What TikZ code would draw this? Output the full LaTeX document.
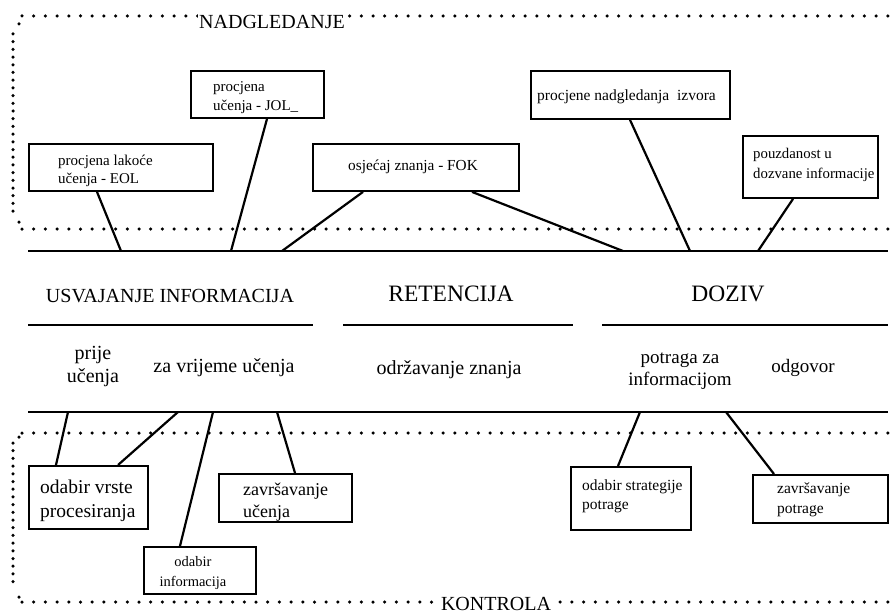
\documentclass[tikz,border=0pt]{standalone}
\usepackage{fontspec}
\setmainfont{Liberation Serif}
\usetikzlibrary{calc}
\tikzset{
  mainline/.style={line width=2.8pt},
  conn/.style={line width=2.2pt},
  boxshape/.style={draw, line width=1.9pt, rectangle, inner sep=0pt, anchor=north west},
  boxtxt/.style={inner sep=0pt, align=left, anchor=west},
  midtxt/.style={inner sep=0pt, align=center},
  regionlbl/.style={fill=white, inner sep=1.5pt, font=\fontsize{20}{22}\selectfont}
}
\newcommand{\dotr}{1.75pt}
\begin{document}
\begin{tikzpicture}[x=1pt,y=-1pt]
\useasboundingbox[fill=white] (0,0) rectangle (890,615);

% dotted regions
\foreach \x in {22,33.7,...,889} {
  \fill (\x,16) circle (\dotr);
  \fill (\x,229) circle (\dotr);
  \fill (\x,433) circle (\dotr);
  \fill (\x,602) circle (\dotr);
}
\foreach \y in {34,41.7,...,213} { \fill (13,\y) circle (\dotr); }
\foreach \y in {443,450.7,...,587} { \fill (13,\y) circle (\dotr); }
\fill (19,24) circle (\dotr);
\fill (19,222) circle (\dotr);
\fill (19,437) circle (\dotr);
\fill (19,597) circle (\dotr);
\node[regionlbl] (nadg) at (272,22) {NADGLEDANJE};
\node[regionlbl] (kontr) at (496,604) {KONTROLA};

% main lines
\coordinate (tl) at (28,251); \coordinate (tr) at (888,251);
\draw[mainline] (tl) -- (tr);
\coordinate (m1a) at (28,325); \coordinate (m1b) at (313,325);
\coordinate (m2a) at (343,325); \coordinate (m2b) at (573,325);
\coordinate (m3a) at (602,325); \coordinate (m3b) at (888,325);
\draw[mainline] (m1a) -- (m1b);
\draw[mainline] (m2a) -- (m2b);
\draw[mainline] (m3a) -- (m3b);
\coordinate (bl) at (28,412); \coordinate (br) at (888,412);
\draw[mainline] (bl) -- (br);

% top boxes
\node[boxshape, minimum width=184pt, minimum height=47pt] (eol) at (28,143) {};
\node[boxtxt, font=\fontsize{15}{18}\selectfont] (eolt) at (58,171) {procjena lakoće\\učenja - EOL};
\node[boxshape, minimum width=133pt, minimum height=47pt] (jol) at (190,70) {};
\node[boxtxt, font=\fontsize{15}{19}\selectfont] (jolt) at (213,97.5) {procjena\\učenja - JOL\_};
\node[boxshape, minimum width=206pt, minimum height=47pt] (fok) at (312,143) {};
\node[boxtxt, font=\fontsize{15.3}{18}\selectfont] (fokt) at (348,167) {osjećaj znanja - FOK};
\node[boxshape, minimum width=199pt, minimum height=48pt] (izv) at (530,70) {};
\node[boxtxt, font=\fontsize{15.5}{18}\selectfont] (izvt) at (537,97) {procjene nadgledanja\ \ izvora};
\node[boxshape, minimum width=135pt, minimum height=62pt] (pouz) at (742,135) {};
\node[boxtxt, font=\fontsize{14.8}{20}\selectfont] (pouzt) at (753,165) {pouzdanost u\\dozvane informacije};

% top connectors
\coordinate (t1) at (121,251);
\coordinate (t2) at (231,251);
\coordinate (t3) at (282,251);
\coordinate (t4) at (623,251);
\coordinate (t5) at (690,251);
\coordinate (t6) at (758,251);
\draw[conn] ($(eol.south west)+(69,0)$) -- (t1);
\draw[conn] ($(jol.south west)+(77,0)$) -- (t2);
\draw[conn] ($(fok.south west)+(51,0)$) -- (t3);
\draw[conn] ($(fok.south west)+(160,0)$) -- (t4);
\draw[conn] ($(izv.south west)+(100,0)$) -- (t5);
\draw[conn] ($(pouz.south west)+(51,0)$) -- (t6);

% middle texts
\node[midtxt, font=\fontsize{20}{22}\selectfont] (usv) at (170,296) {USVAJANJE INFORMACIJA};
\node[midtxt, font=\fontsize{23.5}{25}\selectfont] (ret) at (451,294) {RETENCIJA};
\node[midtxt, font=\fontsize{23.5}{25}\selectfont] (doz) at (728,294) {DOZIV};
\node[midtxt, font=\fontsize{20}{23}\selectfont] (prije) at (93,367) {prije\\učenja};
\node[midtxt, font=\fontsize{20}{23}\selectfont] (zavr) at (224,368) {za vrijeme učenja};
\node[midtxt, font=\fontsize{20}{23}\selectfont] (odrz) at (449,370) {održavanje znanja};
\node[midtxt, font=\fontsize{19}{22}\selectfont] (potr) at (680,371) {potraga za\\informacijom};
\node[midtxt, font=\fontsize{19}{22}\selectfont] (odg) at (803,368) {odgovor};

% bottom boxes
\node[boxshape, minimum width=119pt, minimum height=63pt] (ovp) at (28,465) {};
\node[boxtxt, font=\fontsize{19.5}{24}\selectfont] (ovpt) at (40,501) {odabir vrste\\procesiranja};
\node[boxshape, minimum width=133pt, minimum height=48pt] (zu) at (218,473) {};
\node[boxtxt, font=\fontsize{18}{22}\selectfont] (zut) at (243,502) {završavanje\\učenja};
\node[boxshape, minimum width=112pt, minimum height=47pt] (oi) at (143,546) {};
\node[midtxt, font=\fontsize{14.5}{20}\selectfont] (oit) at (193,573) {odabir\\informacija};
\node[boxshape, minimum width=120pt, minimum height=63pt] (osp) at (570,466) {};
\node[boxtxt, font=\fontsize{15.5}{19}\selectfont] (ospt) at (582,496.5) {odabir strategije\\potrage};
\node[boxshape, minimum width=135pt, minimum height=48pt] (zp) at (752,474) {};
\node[boxtxt, font=\fontsize{15.5}{20}\selectfont] (zpt) at (777,500) {završavanje\\potrage};

% bottom connectors
\coordinate (b1) at (68,412);
\coordinate (b2) at (178,412);
\coordinate (b3) at (213,412);
\coordinate (b4) at (277,412);
\coordinate (b5) at (640,412);
\coordinate (b6) at (726,412);
\draw[conn] ($(ovp.north west)+(28,0)$) -- (b1);
\draw[conn] ($(ovp.north west)+(90,0)$) -- (b2);
\draw[conn] ($(oi.north west)+(37,0)$) -- (b3);
\draw[conn] ($(zu.north west)+(77,0)$) -- (b4);
\draw[conn] ($(osp.north west)+(48,0)$) -- (b5);
\draw[conn] ($(zp.north west)+(22,0)$) -- (b6);
\end{tikzpicture}
\end{document}
